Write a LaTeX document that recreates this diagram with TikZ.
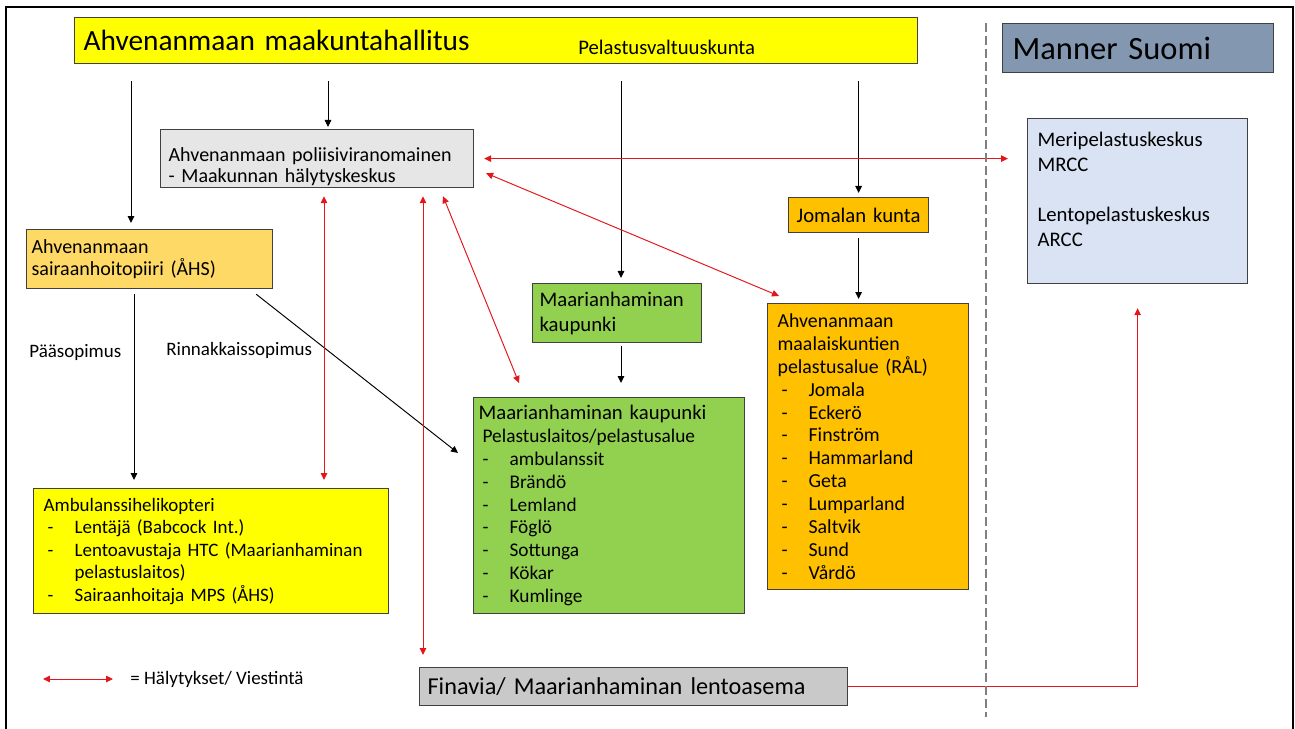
\documentclass[tikz,border=0pt]{standalone}
\usepackage{fontspec}
\setmainfont{Carlito}
\usetikzlibrary{arrows.meta,calc}
\definecolor{hallyellow}{HTML}{FFFF00}
\definecolor{ahsorange}{HTML}{FFD966}
\definecolor{poligray}{HTML}{E7E6E6}
\definecolor{ralorange}{HTML}{FFC000}
\definecolor{kaupgreen}{HTML}{92D050}
\definecolor{mrccblue}{HTML}{DAE3F3}
\definecolor{mannerblue}{HTML}{8497B0}
\definecolor{finagray}{HTML}{C9C9C9}
\definecolor{alarmred}{HTML}{E3161B}
\definecolor{boxline}{HTML}{404040}
\newcommand{\kohta}[1]{\makebox[0.62cm][l]{\hspace{0.08cm}-}#1}
\tikzset{
	box/.style={draw=boxline, line width=0.7pt, anchor=north west, align=left, inner ysep=0pt, font=\fontsize{11.8}{13}\selectfont},
	arr/.style={-{Triangle[length=0.14cm,width=0.13cm]}, line width=0.55pt, black},
	redarr/.style={{Triangle[length=0.14cm,width=0.13cm]}-{Triangle[length=0.14cm,width=0.13cm]}, line width=0.55pt, alarmred},
	label/.style={anchor=west, inner sep=0pt, font=\fontsize{10.8}{12}\selectfont}
}
\begin{document}
\begin{tikzpicture}[x=0.02cm, y=-0.02cm]
			%%%%% START %%%%%
			\useasboundingbox (0,0) rectangle (1295,729);
			\draw[line width=1.1pt] (6,729) -- (6,7) -- (1293,7) -- (1293,729);
			
			\node[box, fill=hallyellow, minimum height=0.92cm, text width=16.5cm, inner xsep=0.18cm, font=\fontsize{16.7}{18}\selectfont] (hallitus) at (74,17) {Ahvenanmaan maakuntahallitus};
			\node[label, font=\fontsize{11.8}{13}\selectfont] (valtuusk) at (578,47) {Pelastusvaltuuskunta};
			
			\node[box, fill=mannerblue, minimum height=0.98cm, text width=5.02cm, inner xsep=0.2cm, font=\fontsize{18.5}{20}\selectfont] (manner) at (1002,23) {Manner Suomi};
			
			\node[box, fill=poligray, minimum height=1.16cm, text width=5.94cm, inner xsep=0.16cm, font=\fontsize{11.4}{11.9}\selectfont] (police) at (160,129) {\rule{0pt}{0.59cm}\mbox{Ahvenanmaan poliisiviranomainen}\\- Maakunnan hälytyskeskus};
			
			\node[box, fill=ahsorange, minimum height=1.18cm, text width=4.72cm, inner xsep=0.1cm, font=\fontsize{11.4}{12.5}\selectfont] (aahs) at (26,229) {Ahvenanmaan\\sairaanhoitopiiri (ÅHS)};
			
			\node[box, fill=ralorange, minimum height=0.7cm, text width=2.6cm, inner xsep=0.1cm, align=center] (jomala) at (788,197) {Jomalan kunta};
			
			\node[box, fill=kaupgreen, minimum height=1.18cm, text width=3.1cm, inner xsep=0.14cm, font=\fontsize{11.8}{14.2}\selectfont] (maarg) at (532,283) {Maarianhaminan\\kaupunki};
			
			\node[box, fill=kaupgreen, minimum height=4.32cm, text width=5.22cm, inner xsep=0.1cm] (kaupunki) at (473,397) {Maarianhaminan kaupunki\\\fontsize{11}{13}\selectfont\hspace*{0.08cm}Pelastuslaitos/pelastusalue\\\kohta{ambulanssit}\\\kohta{Brändö}\\\kohta{Lemland}\\\kohta{Föglö}\\\kohta{Sottunga}\\\kohta{Kökar}\\\kohta{Kumlinge}};
			
			\node[box, fill=ralorange, minimum height=5.72cm, text width=3.62cm, inner xsep=0.2cm, font=\fontsize{11.3}{13}\selectfont] (ral) at (767,303) {Ahvenanmaan\\maalaiskuntien\\pelastusalue (RÅL)\\\kohta{Jomala}\\\kohta{Eckerö}\\\kohta{Finström}\\\kohta{Hammarland}\\\kohta{Geta}\\\kohta{Lumparland}\\\kohta{Saltvik}\\\kohta{Sund}\\\kohta{Vårdö}};
			
			\node[box, fill=mrccblue, minimum height=3.3cm, text width=4.0cm, inner xsep=0.2cm, font=\fontsize{11.8}{14.2}\selectfont] (mrcc) at (1027,118) {Meripelastuskeskus\\MRCC\\[14.2pt]Lentopelastuskeskus\\ARCC\rule[-0.48cm]{0pt}{0.48cm}};
			
			\node[box, fill=hallyellow, minimum height=2.5cm, text width=6.7cm, inner xsep=0.2cm, font=\fontsize{10.8}{12.8}\selectfont] (ambu) at (33,488) {Ambulanssihelikopteri\\\kohta{Lentäjä (Babcock Int.)}\\\kohta{\mbox{Lentoavustaja HTC (Maarianhaminan}}\\\hspace*{0.62cm}pelastuslaitos)\\\kohta{Sairaanhoitaja MPS (ÅHS)}};
			
			\node[box, fill=finagray, minimum height=0.76cm, text width=8.24cm, inner xsep=0.16cm, font=\fontsize{13.8}{15}\selectfont] (finavia) at (419,667) {Finavia/ Maarianhaminan lentoasema};
			
			\draw[arr, shorten <=0.34cm, shorten >=0.12cm] (hallitus.south -| 131,0) -- (aahs.north -| 131,0);
			\draw[arr, shorten <=0.34cm, shorten >=0.04cm] (hallitus.south -| 328,0) -- (police.north -| 328,0);
			\draw[arr, shorten <=0.34cm, shorten >=0.1cm] (hallitus.south -| 621,0) -- (maarg.north -| 621,0);
			\draw[arr, shorten <=0.34cm, shorten >=0.08cm] (hallitus.south -| jomala.north) -- (jomala.north);
			\draw[arr, shorten <=0.1cm, shorten >=0.08cm] (jomala.south) -- (ral.north -| jomala.south);
			\draw[arr, shorten <=0.06cm, shorten >=0.28cm] (maarg.south -| 621,0) -- (kaupunki.north -| 621,0);
			\draw[arr, shorten <=0.1cm, shorten >=0.16cm] (aahs.south -| 134,0) -- (ambu.north -| 134,0);
			\draw[arr] ($(aahs.south east)+(-17,5)$) -- ($(kaupunki.north west)+(-15,56)$);
			
			\node[label] (paasop) at (29,353) {Pääsopimus};
			\node[label] (rinnsop) at (166,350) {Rinnakkaissopimus};
			
			\draw[redarr, shorten <=0.2cm, shorten >=0.38cm] (police.east) -- (police.east -| mrcc.west);
			\draw[redarr] ($(police.south east)+(12,-15)$) -- ($(ral.north west)+(12,-7)$);
			\draw[redarr, shorten <=0.16cm, shorten >=0.16cm] (police.south -| 324,0) -- (ambu.north -| 324,0);
			\draw[redarr, shorten <=0.16cm, shorten >=0.24cm] (police.south -| 423,0) -- (finavia.north -| 423,0);
			\draw[redarr] ($(police.south west)+(283,8)$) -- ($(kaupunki.north west)+(46,-14)$);
			\draw[-{Triangle[length=0.14cm,width=0.13cm]}, line width=0.55pt, alarmred, shorten >=0.48cm] (finavia.east) -| (mrcc.south);
			
			\coordinate (rajatop) at (986,23);
			\coordinate (rajabot) at (986,717);
			\draw[gray, line width=0.8pt, dash pattern=on 0.18cm off 0.08cm] (rajatop) -- (rajabot);
			
			\coordinate (selite1) at (43,679);
			\coordinate (selite2) at (113,679);
			\draw[redarr] (selite1) -- (selite2);
			\node[label] (selite) at (130,679) {= Hälytykset/ Viestintä};
			%%%%% END %%%%%
\end{tikzpicture}
\end{document}
